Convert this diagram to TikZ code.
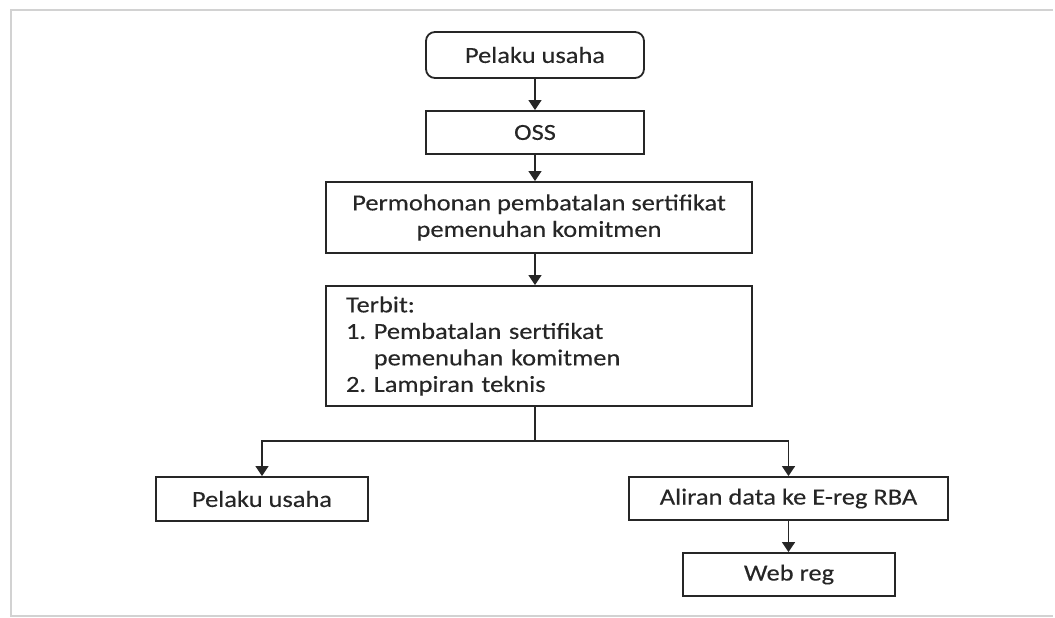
\documentclass[tikz,border=0pt]{standalone}
\usepackage{fontspec}
\setmainfont[FakeStretch=1.15,FakeBold=0.25]{Carlito}
\usetikzlibrary{arrows.meta,calc}
\definecolor{ink}{HTML}{262626}
\tikzset{
  boxstyle/.style={draw=ink, line width=1.8pt, text=ink, inner sep=0pt, align=center,
    font=\fontsize{23}{26.5}\selectfont\frenchspacing},
  conn/.style={draw=ink, line width=1.4pt, -{Triangle[length=10pt,width=13pt]}},
  plain/.style={draw=ink, line width=1.4pt},
  framestyle/.style={draw=gray!35, line width=2pt}
}
\begin{document}
\begin{tikzpicture}[x=1pt,y=-1pt]
\useasboundingbox (0,0) rectangle (1055,618);
\draw[framestyle] (1053,10) -- (11,10) -- (11,616) -- (1053,616);
\node[boxstyle, rounded corners=9pt, minimum width=218pt, minimum height=46pt] (top) at (535,55) {Pelaku usaha};
\node[boxstyle, minimum width=218pt, minimum height=43pt] (oss) at (535,132.5) {OSS};
\node[boxstyle, minimum width=426pt, minimum height=71pt] (perm) at (539,217.5) {Permohonan pembatalan sertifikat\\pemenuhan komitmen};
\node[boxstyle, minimum width=426pt, minimum height=120pt, text width=386pt, align=left, inner xsep=20pt] (terbit) at (539,346) {Terbit:\\1. Pembatalan sertifikat\\\phantom{1. }pemenuhan komitmen\\2. Lampiran teknis};
\node[boxstyle, minimum width=212pt, minimum height=44pt] (left) at (262,499) {Pelaku usaha};
\node[boxstyle, minimum width=319pt, minimum height=43pt] (aliran) at (788.5,498.5) {Aliran data ke E-reg RBA};
\node[boxstyle, minimum width=212pt, minimum height=43pt] (web) at (789,574.5) {Web reg};
\draw[conn] (top.south) -- (oss.north);
\draw[conn] (oss.south) -- (oss.south |- perm.north);
\draw[conn] (oss.south |- perm.south) -- (oss.south |- terbit.north);
\coordinate (split) at ($(oss.south |- terbit.south)+(0,34)$);
\draw[plain] (oss.south |- terbit.south) -- (split);
\draw[conn] (split) -| (left.north);
\draw[conn] (split) -| (aliran.north);
\draw[conn] (aliran.south) -- (aliran.south |- web.north);
\end{tikzpicture}
\end{document}
